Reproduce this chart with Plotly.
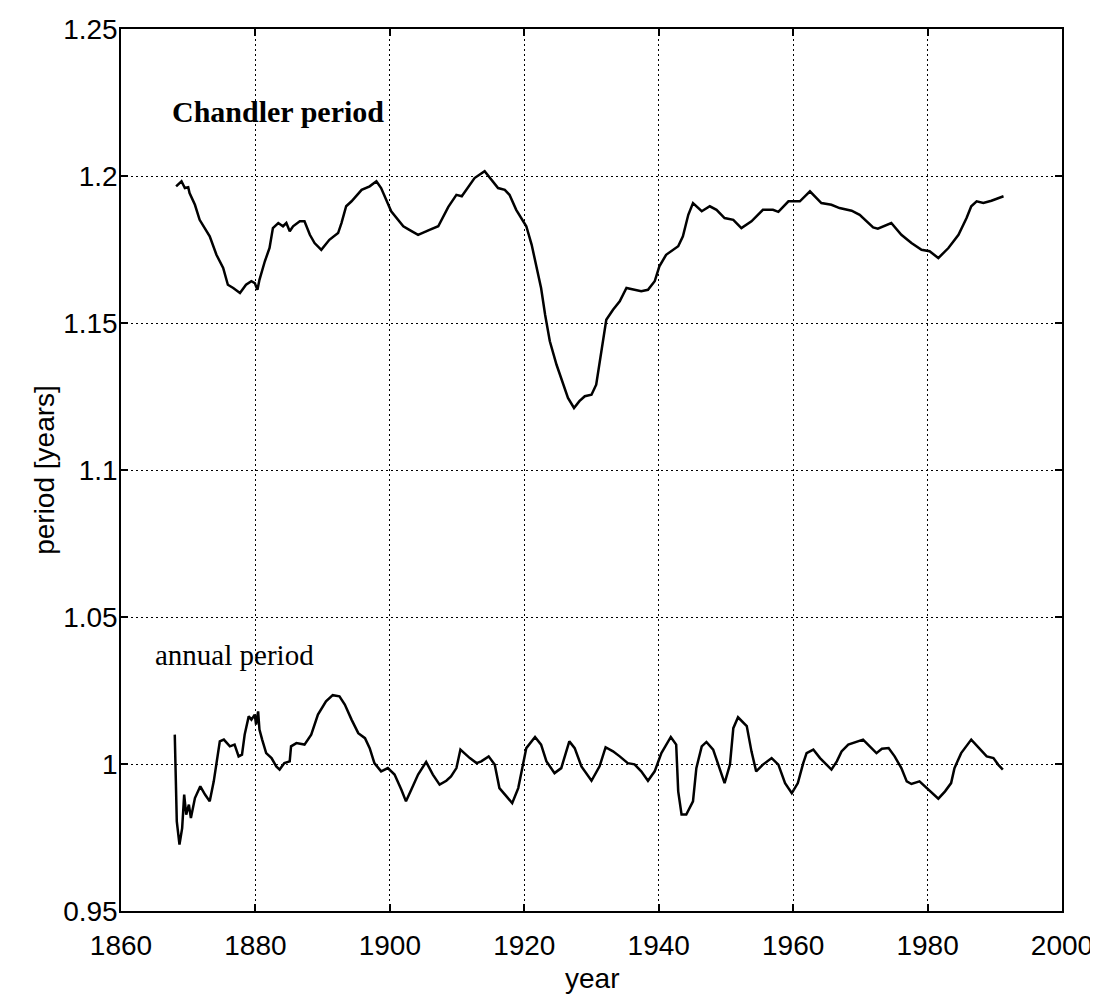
import plotly.graph_objects as go

# Chandler period (years)
chandler_year = [1868.2, 1869.0, 1869.5, 1870.0, 1870.2, 1871.0, 1871.7, 1872.4, 1873.2, 1874.2,
                 1875.2, 1875.9, 1876.7, 1877.7, 1878.6, 1879.4, 1879.9, 1880.3, 1880.6, 1881.4,
                 1882.1, 1882.6, 1883.4, 1884.1, 1884.6, 1885.1, 1885.6, 1886.6, 1887.3, 1888.1,
                 1888.8, 1889.8, 1891.0, 1892.3, 1892.8, 1893.5, 1894.3, 1895.8, 1897.0, 1898.0,
                 1898.7, 1900.2, 1902.0, 1902.9, 1904.2, 1905.9, 1907.2, 1908.7, 1909.9, 1910.7,
                 1912.6, 1914.1, 1914.9, 1916.1, 1917.1, 1917.8, 1918.8, 1919.7, 1920.3, 1921.1,
                 1921.8, 1922.5, 1923.1, 1923.8, 1924.8, 1925.8, 1926.5, 1927.4, 1928.2, 1929.0,
                 1930.0, 1930.7, 1931.5, 1932.2, 1933.2, 1934.2, 1935.2, 1936.4, 1937.4, 1938.4,
                 1939.4, 1940.1, 1941.1, 1942.9, 1943.6, 1944.4, 1945.1, 1946.4, 1947.6, 1948.6,
                 1949.8, 1951.1, 1952.3, 1953.8, 1955.5, 1957.0, 1957.8, 1959.3, 1961.0, 1962.5,
                 1964.2, 1965.7, 1966.9, 1968.7, 1969.9, 1971.9, 1972.6, 1974.6, 1976.1, 1977.6,
                 1979.1, 1980.3, 1981.6, 1983.1, 1984.6, 1985.8, 1986.5, 1987.3, 1988.3, 1989.5,
                 1990.5, 1991.3]
chandler_period = [1.1965, 1.1982, 1.1959, 1.1962, 1.1942, 1.1902, 1.1851, 1.1823, 1.1795, 1.1732,
                   1.1687, 1.1630, 1.1619, 1.1602, 1.1630, 1.1642, 1.1636, 1.1613, 1.1647, 1.1710,
                   1.1755, 1.1823, 1.1840, 1.1829, 1.1840, 1.1812, 1.1829, 1.1846, 1.1846, 1.1800,
                   1.1772, 1.1749, 1.1783, 1.1806, 1.1840, 1.1897, 1.1914, 1.1953, 1.1965, 1.1982,
                   1.1959, 1.1880, 1.1829, 1.1817, 1.1800, 1.1817, 1.1829, 1.1895, 1.1936, 1.1931,
                   1.1993, 1.2016, 1.1993, 1.1959, 1.1953, 1.1936, 1.1885, 1.1851, 1.1829, 1.1766,
                   1.1698, 1.1619, 1.1528, 1.1438, 1.1358, 1.1290, 1.1245, 1.1211, 1.1234, 1.1251,
                   1.1256, 1.1290, 1.1404, 1.1511, 1.1545, 1.1574, 1.1619, 1.1613, 1.1608, 1.1613,
                   1.1642, 1.1693, 1.1732, 1.1761, 1.1795, 1.1868, 1.1908, 1.1880, 1.1897, 1.1885,
                   1.1857, 1.1851, 1.1823, 1.1846, 1.1885, 1.1885, 1.1878, 1.1914, 1.1914, 1.1948,
                   1.1908, 1.1902, 1.1891, 1.1882, 1.1868, 1.1825, 1.1821, 1.1840, 1.1800, 1.1772,
                   1.1749, 1.1744, 1.1721, 1.1755, 1.1800, 1.1857, 1.1897, 1.1914, 1.1908, 1.1916,
                   1.1923, 1.1931]

# annual period (years)
annual_year = [1868.0, 1868.1, 1868.3, 1868.7, 1869.1, 1869.4, 1869.7, 1870.1, 1870.4, 1871.0,
               1871.8, 1872.5, 1873.2, 1873.8, 1874.2, 1874.7, 1875.3, 1876.2, 1876.9, 1877.5,
               1878.0, 1878.4, 1879.0, 1879.4, 1879.9, 1880.1, 1880.4, 1880.6, 1881.0, 1881.6,
               1882.4, 1883.1, 1883.6, 1884.3, 1885.1, 1885.3, 1886.1, 1887.3, 1888.3, 1889.3,
               1890.5, 1891.5, 1892.5, 1893.3, 1894.3, 1895.3, 1896.3, 1897.0, 1897.7, 1898.7,
               1899.7, 1900.7, 1901.7, 1902.4, 1903.2, 1904.2, 1905.4, 1906.4, 1907.4, 1908.4,
               1909.1, 1909.9, 1910.5, 1911.9, 1912.9, 1913.6, 1914.7, 1915.6, 1916.3, 1917.3,
               1918.2, 1919.1, 1919.7, 1920.3, 1921.6, 1922.5, 1923.3, 1924.5, 1925.5, 1926.7,
               1927.5, 1928.5, 1930.0, 1931.2, 1932.1, 1933.2, 1934.2, 1935.4, 1936.4, 1937.4,
               1938.4, 1939.4, 1940.4, 1941.8, 1942.6, 1942.9, 1943.4, 1944.1, 1945.1, 1945.6,
               1946.4, 1947.1, 1948.1, 1949.1, 1949.8, 1950.6, 1951.1, 1951.8, 1953.1, 1953.8,
               1954.5, 1955.5, 1956.8, 1957.8, 1958.8, 1959.8, 1960.7, 1961.5, 1962.0, 1963.0,
               1964.0, 1965.7, 1966.5, 1967.2, 1968.2, 1970.4, 1971.7, 1972.4, 1973.2, 1974.2,
               1975.1, 1976.1, 1976.9, 1977.6, 1978.8, 1980.1, 1981.6, 1982.6, 1983.5, 1984.0,
               1985.0, 1986.5, 1987.8, 1988.8, 1989.8, 1990.5, 1991.2]
annual_period = [1.0100, 0.9998, 0.9805, 0.9726, 0.9782, 0.9896, 0.9828, 0.9862, 0.9816, 0.9884,
                 0.9924, 0.9896, 0.9873, 0.9941, 0.9998, 1.0077, 1.0083, 1.0060, 1.0066, 1.0026,
                 1.0032, 1.0100, 1.0162, 1.0151, 1.0168, 1.0134, 1.0179, 1.0117, 1.0083, 1.0037,
                 1.0020, 0.9992, 0.9981, 1.0003, 1.0009, 1.0060, 1.0071, 1.0066, 1.0100, 1.0168,
                 1.0213, 1.0234, 1.0230, 1.0202, 1.0151, 1.0105, 1.0088, 1.0054, 1.0003, 0.9975,
                 0.9986, 0.9964, 0.9913, 0.9873, 0.9913, 0.9964, 1.0007, 0.9964, 0.9930, 0.9943,
                 0.9958, 0.9986, 1.0049, 1.0020, 1.0003, 1.0009, 1.0026, 0.9998, 0.9918, 0.9890,
                 0.9867, 0.9918, 0.9986, 1.0054, 1.0092, 1.0066, 1.0009, 0.9969, 0.9986, 1.0077,
                 1.0054, 0.9992, 0.9943, 0.9992, 1.0057, 1.0043, 1.0026, 1.0003, 0.9999, 0.9975,
                 0.9943, 0.9975, 1.0037, 1.0092, 1.0066, 0.9907, 0.9828, 0.9828, 0.9873, 0.9986,
                 1.0060, 1.0075, 1.0049, 0.9981, 0.9935, 0.9998, 1.0122, 1.0159, 1.0129, 1.0043,
                 0.9975, 0.9998, 1.0020, 0.9998, 0.9935, 0.9901, 0.9935, 1.0003, 1.0037, 1.0049,
                 1.0020, 0.9981, 1.0009, 1.0043, 1.0066, 1.0083, 1.0054, 1.0037, 1.0052, 1.0054,
                 1.0026, 0.9986, 0.9941, 0.9932, 0.9941, 0.9913, 0.9882, 0.9907, 0.9935, 0.9986,
                 1.0037, 1.0083, 1.0049, 1.0026, 1.0020, 0.9998, 0.9981]

x_ticks = [1860, 1880, 1900, 1920, 1940, 1960, 1980, 2000]
y_ticks = [0.95, 1.0, 1.05, 1.1, 1.15, 1.2, 1.25]
y_ticktext = ["0.95", "1", "1.05", "1.1", "1.15", "1.2", "1.25"]

sans = "Liberation Sans, Arial, sans-serif"
serif = "Liberation Serif, Times New Roman, serif"

fig = go.Figure()
fig.add_trace(go.Scatter(x=chandler_year, y=chandler_period, mode="lines",
                         line=dict(color="black", width=2.5), showlegend=False))
fig.add_trace(go.Scatter(x=annual_year, y=annual_period, mode="lines",
                         line=dict(color="black", width=2.5), showlegend=False))

fig.add_annotation(x=1867.3, y=1.222, text="<b>Chandler period</b>", showarrow=False,
                   xanchor="left", yanchor="middle", font=dict(family=serif, size=30, color="black"))
fig.add_annotation(x=1864.8, y=1.037, text="annual period", showarrow=False,
                   xanchor="left", yanchor="middle", font=dict(family=serif, size=29, color="black"))

# axis titles
fig.add_annotation(x=0.5, y=-0.076, xref="paper", yref="paper", text="year", showarrow=False,
                   xanchor="center", yanchor="middle", font=dict(family=sans, size=28, color="black"))
fig.add_annotation(x=-0.082, y=0.5, xref="paper", yref="paper", text="period [years]", showarrow=False,
                   textangle=-90, xanchor="center", yanchor="middle",
                   font=dict(family=sans, size=28, color="black"))

axis_style = dict(showline=True, linecolor="black", linewidth=1.5, mirror="ticks",
                  ticks="inside", ticklen=7, tickcolor="black", tickwidth=1.5,
                  showgrid=True, gridcolor="black", gridwidth=1, griddash="2px,3px",
                  zeroline=False, automargin=False,
                  tickfont=dict(family=sans, size=28, color="black"))

fig.update_xaxes(range=[1860, 2000], tickvals=x_ticks, ticklabelstandoff=9, **axis_style)
fig.update_yaxes(range=[0.95, 1.25], tickvals=y_ticks, ticktext=y_ticktext,
                 ticklabelstandoff=-4, **axis_style)

fig.update_layout(width=1098, height=997, margin=dict(l=113, r=44, t=21, b=94),
                  paper_bgcolor="white", plot_bgcolor="white")

fig.write_html("out.html")
